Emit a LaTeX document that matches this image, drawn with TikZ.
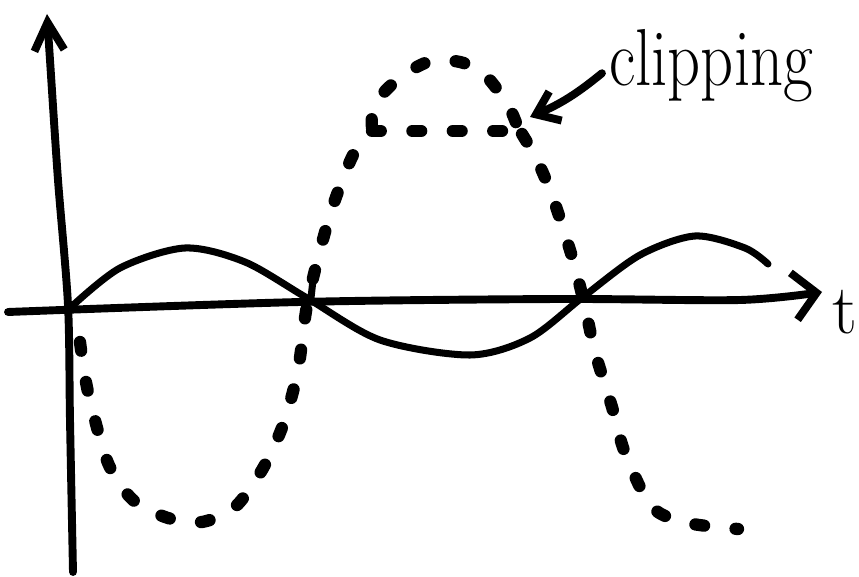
\documentclass[tikz,border=0pt]{standalone}
\usepackage{tikz}
\usetikzlibrary{arrows.meta}

\begin{document}
\begin{tikzpicture}[x=0.02cm, y=-0.02cm,
    every node/.style={inner sep=0pt, font=\fontsize{40}{40}\selectfont},
    axis/.style={line width=4.5pt, line cap=round, line join=round},
    wave/.style={line width=4pt, line cap=round, line join=round},
    clipwave/.style={line width=7pt, line cap=round, dash pattern=on 5pt off 18pt}]
    \useasboundingbox (0,0) rectangle (859,577);

    % axes
    \draw[axis, -{Straight Barb[length=16pt, width=17pt, line width=4.5pt]}]
      plot[smooth] coordinates {(73,572) (70,420) (68,305) (58,180) (50,60) (47,14)};
    \draw[axis, -{Straight Barb[length=13pt, width=27pt, line width=4.5pt]}]
      plot[smooth] coordinates {(8,312) (300,302) (560,299) (740,300) (822,292)};
    \node[anchor=base west] (tlabel) at (832,334) {t};

    % original signal
    \draw[wave] plot[smooth] coordinates {(70,308) (120,268) (185,248) (245,262) (307,298)
      (380,340) (470,355) (530,338) (583,297) (640,255) (695,236) (745,248) (768,264)};
    \draw[wave] (313,280) -- (311,298);

    % amplified signal, clipped at the top
    \draw[clipwave] plot[smooth] coordinates {(80,342) (88,392) (108,463) (133,500) (168,518)
      (202,522) (235,507) (262,470) (283,425) (298,370) (308,300) (330,215) (353,155) (372,131)};
    \draw[clipwave] (372,131) -- (520,131);
    \draw[clipwave] plot[smooth] coordinates {(372,128) (374,105) (397,80) (428,62) (460,62)
      (485,75) (508,105) (518,128)};
    \draw[clipwave] plot[smooth] coordinates {(522,134) (537,160) (553,198) (573,260) (585,307)
      (595,352) (612,407) (625,453) (652,507) (688,523) (738,529)};

    % label
    \node[anchor=base west, font=\fontsize{46}{46}\selectfont] (cliplabel) at (609,86)
      {\scalebox{0.8}[1]{clipping}};
    \coordinate (cliptip) at (530,117);
    \draw[axis, -{Straight Barb[length=12pt, width=18pt, line width=4.5pt]}]
      ([xshift=-4pt, yshift=-4pt]cliplabel.west) to[bend left=8] (cliptip);
\end{tikzpicture}
\end{document}
